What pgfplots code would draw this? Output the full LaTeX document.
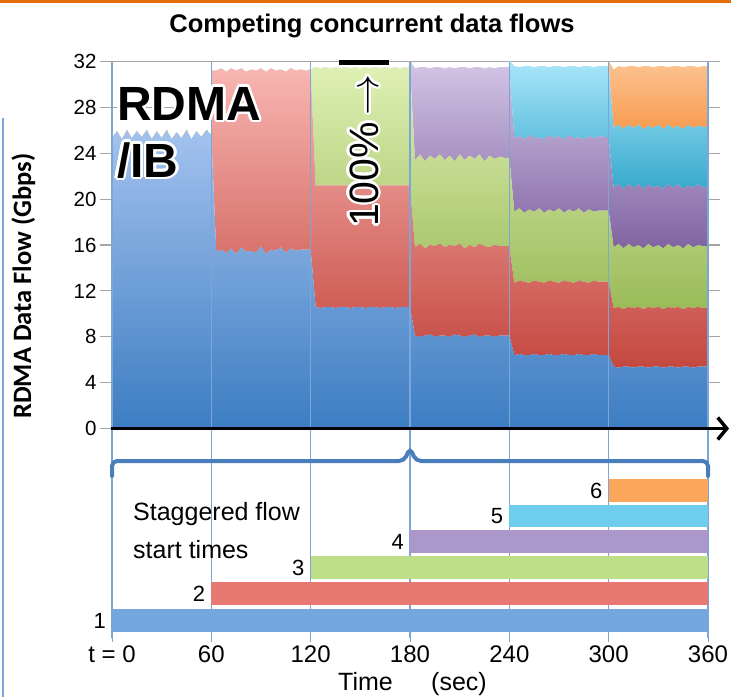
\RequirePackage{fix-cm}
\documentclass[border=0pt]{standalone}
\usepackage{fontspec}
\setmainfont{Liberation Sans}
\newfontfamily\calibri{Carlito}
\usepackage{pgfplots}
\pgfplotsset{compat=1.18}
\usepackage{pgfplotstable}
\usetikzlibrary{arrows.meta}
\usepackage{contour}
\contourlength{2.5pt}

\definecolor{a1t}{RGB}{163,194,238}\definecolor{a1b}{RGB}{60,125,194}
\definecolor{a2t}{RGB}{248,182,178}\definecolor{a2b}{RGB}{196,72,64}
\definecolor{a3t}{RGB}{222,240,180}\definecolor{a3b}{RGB}{155,187,89}
\definecolor{a4t}{RGB}{212,197,230}\definecolor{a4b}{RGB}{128,100,162}
\definecolor{a5t}{RGB}{170,230,250}\definecolor{a5b}{RGB}{55,170,205}
\definecolor{a6t}{RGB}{252,196,146}\definecolor{a6b}{RGB}{247,150,70}
\definecolor{b1}{RGB}{116,167,222}
\definecolor{b2}{RGB}{231,120,114}
\definecolor{b3}{RGB}{190,222,136}
\definecolor{b4}{RGB}{172,151,203}
\definecolor{b5}{RGB}{111,206,235}
\definecolor{b6}{RGB}{252,166,91}
\definecolor{vblue}{RGB}{125,165,215}
\definecolor{bracketblue}{RGB}{74,126,187}
\definecolor{gridgray}{RGB}{165,165,165}
\definecolor{topline}{RGB}{228,108,10}

\pgfplotstableread{
t f1 f2 f3 f4 f5 f6
0 25.3 0 0 0 0 0
3 25.9 0 0 0 0 0
6 25.2 0 0 0 0 0
9 26.0 0 0 0 0 0
12 25.3 0 0 0 0 0
15 25.9 0 0 0 0 0
18 25.4 0 0 0 0 0
21 26.0 0 0 0 0 0
24 25.2 0 0 0 0 0
27 25.9 0 0 0 0 0
30 25.3 0 0 0 0 0
33 26.0 0 0 0 0 0
36 25.2 0 0 0 0 0
39 25.8 0 0 0 0 0
42 25.3 0 0 0 0 0
45 26.0 0 0 0 0 0
48 25.2 0 0 0 0 0
51 25.9 0 0 0 0 0
54 25.4 0 0 0 0 0
57 26.0 0 0 0 0 0
60 25.6 0 0 0 0 0
60 25.6 5.6 0 0 0 0
63 15.4 15.8 0 0 0 0
66 15.6 15.8 0 0 0 0
69 15.3 15.8 0 0 0 0
72 15.7 15.7 0 0 0 0
75 15.2 16.0 0 0 0 0
78 15.8 15.6 0 0 0 0
81 15.4 15.7 0 0 0 0
84 15.5 15.8 0 0 0 0
87 15.3 15.9 0 0 0 0
90 15.9 15.5 0 0 0 0
93 15.2 15.9 0 0 0 0
96 15.6 15.8 0 0 0 0
99 15.5 15.7 0 0 0 0
102 15.8 15.5 0 0 0 0
105 15.3 15.8 0 0 0 0
108 15.7 15.7 0 0 0 0
111 15.5 15.7 0 0 0 0
114 15.6 15.7 0 0 0 0
117 15.6 15.6 0 0 0 0
120 15.6 15.7 0 0 0 0
123 10.6 10.6 10.3 0 0 0
126 10.5 10.7 10.2 0 0 0
129 10.6 10.6 10.3 0 0 0
132 10.6 10.6 10.2 0 0 0
135 10.5 10.7 10.3 0 0 0
138 10.6 10.6 10.2 0 0 0
141 10.6 10.6 10.3 0 0 0
144 10.5 10.7 10.2 0 0 0
147 10.6 10.6 10.3 0 0 0
150 10.6 10.6 10.2 0 0 0
153 10.5 10.7 10.3 0 0 0
156 10.6 10.6 10.2 0 0 0
159 10.6 10.6 10.3 0 0 0
162 10.5 10.7 10.2 0 0 0
165 10.6 10.6 10.3 0 0 0
168 10.6 10.6 10.2 0 0 0
171 10.5 10.7 10.3 0 0 0
174 10.6 10.6 10.2 0 0 0
177 10.6 10.6 10.3 0 0 0
180 10.6 10.6 10.3 0 0 0
180 10.6 10.6 10.3 0.5 0 0
183 8.1 7.7 7.6 8.0 0 0
186 8.0 8.1 7.8 7.6 0 0
189 8.1 7.6 7.6 8.2 0 0
192 8.2 7.8 7.8 7.6 0 0
195 8.0 7.9 7.6 8.0 0 0
198 8.1 8.0 7.8 7.6 0 0
201 8.1 7.7 7.6 8.0 0 0
204 8.0 8.0 7.8 7.7 0 0
207 8.2 7.7 7.4 8.1 0 0
210 8.1 8.0 7.8 7.6 0 0
213 8.0 7.7 7.7 8.1 0 0
216 8.1 7.9 7.8 7.6 0 0
219 8.2 7.6 7.7 8.0 0 0
222 8.0 8.1 7.8 7.6 0 0
225 8.1 7.8 7.4 8.1 0 0
228 8.1 7.7 8.0 7.7 0 0
231 8.0 8.0 7.5 7.9 0 0
234 8.1 7.8 7.8 7.8 0 0
237 8.1 7.8 7.7 7.9 0 0
240 8.1 7.8 7.7 7.9 0 0
240 8.1 7.8 7.7 7.9 0.6 0
243 6.4 6.3 6.2 6.4 6.3 0
246 6.5 6.4 6.3 6.3 6.0 0
249 6.4 6.4 6.0 6.4 6.4 0
252 6.4 6.3 6.4 6.5 6.0 0
255 6.5 6.4 6.0 6.4 6.2 0
258 6.4 6.4 6.4 6.2 6.2 0
261 6.4 6.3 6.1 6.4 6.4 0
264 6.5 6.4 6.2 6.5 5.9 0
267 6.4 6.4 6.1 6.4 6.3 0
270 6.4 6.3 6.5 6.3 6.1 0
273 6.5 6.4 5.9 6.4 6.3 0
276 6.4 6.4 6.3 6.5 6.0 0
279 6.4 6.3 6.2 6.4 6.3 0
282 6.5 6.4 6.3 6.2 6.1 0
285 6.4 6.4 6.0 6.4 6.4 0
288 6.4 6.3 6.4 6.4 6.1 0
291 6.5 6.4 6.0 6.4 6.2 0
294 6.4 6.4 6.2 6.5 6.1 0
297 6.4 6.4 6.2 6.4 6.2 0
300 6.4 6.4 6.2 6.4 6.2 0
300 6.4 6.4 6.2 6.4 6.2 0.5
303 5.4 5.1 5.3 5.2 5.2 5.1
306 5.3 5.3 5.5 5.2 5.2 5.1
309 5.4 5.0 5.3 5.2 5.2 5.4
312 5.4 5.2 5.5 5.2 5.2 5.1
315 5.3 5.2 5.3 5.2 5.2 5.4
318 5.4 5.2 5.4 5.3 5.2 5.0
321 5.4 5.0 5.3 5.2 5.2 5.5
324 5.3 5.3 5.5 5.2 5.1 5.2
327 5.4 5.1 5.3 5.2 5.2 5.3
330 5.4 5.2 5.4 5.2 5.3 5.1
333 5.3 5.1 5.3 5.2 5.2 5.5
336 5.4 5.2 5.5 5.2 5.2 5.0
339 5.4 5.1 5.3 5.2 5.2 5.4
342 5.3 5.3 5.4 5.3 5.1 5.2
345 5.4 5.0 5.3 5.2 5.2 5.4
348 5.4 5.2 5.5 5.1 5.3 5.1
351 5.3 5.2 5.3 5.2 5.2 5.4
354 5.4 5.2 5.4 5.3 5.1 5.1
357 5.4 5.1 5.4 5.1 5.3 5.3
360 5.4 5.1 5.4 5.2 5.2 5.3
}\flows

\begin{document}
\begin{tikzpicture}[x=1pt,y=1pt]
\useasboundingbox (0,0) rectangle (731,-697);
\fill[topline] (0,0) rectangle (731,-2.5);
\draw[vblue, line width=1.2pt] (3,-118) -- (3,-697);

% vertical guide lines in lower panel (behind bars)
\foreach \i in {0,...,6} \draw[vblue, line width=1.3pt] ({112+99.333*\i},-428.5) -- ({112+99.333*\i},-638);

% lower panel: staggered flow start times
\begin{axis}[at={(112pt,-638pt)}, anchor=south west, scale only axis,
  width=596pt, height=209.5pt, xmin=0, xmax=360, ymin=0, ymax=209.5,
  axis line style={draw=none}, ytick=\empty,
  xtick={0,60,120,180,240,300,360},
  xticklabels={t = 0,60,120,180,240,300,360},
  xtick style={draw=vblue, line width=1pt}, tick align=outside,
  major tick length=4pt,
  xticklabel style={font=\fontsize{24}{28}\selectfont},
  /pgf/number format/assume math mode=true, clip=false]
\addplot[fill=b1, draw=none] coordinates {(0,6)(360,6)(360,29)(0,29)} -- cycle;
\addplot[fill=b2, draw=none] coordinates {(60,33)(360,33)(360,56)(60,56)} -- cycle;
\addplot[fill=b3, draw=none] coordinates {(120,59)(360,59)(360,82)(120,82)} -- cycle;
\addplot[fill=b4, draw=none] coordinates {(180,85)(360,85)(360,108)(180,108)} -- cycle;
\addplot[fill=b5, draw=none] coordinates {(240,111)(360,111)(360,133)(240,133)} -- cycle;
\addplot[fill=b6, draw=none] coordinates {(300,136)(360,136)(360,159)(300,159)} -- cycle;
\node[anchor=east, inner sep=0, xshift=-6pt, font=\fontsize{22}{26}\selectfont] at (axis cs:0,17.5) {1};
\node[anchor=east, inner sep=0, xshift=-6pt, font=\fontsize{22}{26}\selectfont] at (axis cs:60,44.5) {2};
\node[anchor=east, inner sep=0, xshift=-6pt, font=\fontsize{22}{26}\selectfont] at (axis cs:120,70.5) {3};
\node[anchor=east, inner sep=0, xshift=-6pt, font=\fontsize{22}{26}\selectfont] at (axis cs:180,96.5) {4};
\node[anchor=east, inner sep=0, xshift=-6pt, font=\fontsize{22}{26}\selectfont] at (axis cs:240,122) {5};
\node[anchor=east, inner sep=0, xshift=-6pt, font=\fontsize{22}{26}\selectfont] at (axis cs:300,147.5) {6};
\end{axis}

% upper panel: stacked flows
\begin{axis}[at={(112pt,-428.5pt)}, anchor=south west, scale only axis,
  width=596pt, height=367pt, xmin=0, xmax=360, ymin=0, ymax=32,
  xtick=\empty, ytick={0,4,...,32},
  ymajorgrids, grid style={draw=gridgray, line width=1.2pt},
  axis line style={draw=none},
  ytick style={draw=gridgray, line width=1.2pt}, tick align=outside,
  major tick length=12pt,
  yticklabel style={font=\fontsize{20.5}{24}\selectfont},
  stack plots=y,
  /pgf/number format/assume math mode=true]
\addplot[draw=none, top color=a1t, bottom color=a1b] table[x=t,y=f1]{\flows} \closedcycle;
\addplot[draw=none, top color=a2t, bottom color=a2b] table[x=t,y=f2]{\flows} \closedcycle;
\addplot[draw=none, top color=a3t, bottom color=a3b] table[x=t,y=f3]{\flows} \closedcycle;
\addplot[draw=none, top color=a4t, bottom color=a4b] table[x=t,y=f4]{\flows} \closedcycle;
\addplot[draw=none, top color=a5t, bottom color=a5b] table[x=t,y=f5]{\flows} \closedcycle;
\addplot[draw=none, top color=a6t, bottom color=a6b] table[x=t,y=f6]{\flows} \closedcycle;
\end{axis}

% vertical guide lines in upper panel (over areas)
\foreach \i in {0,...,6} \draw[vblue, line width=1.3pt] ({112+99.333*\i},-61.5) -- ({112+99.333*\i},-428.5);

% time axis arrow
\draw[line width=3.5pt, -{Straight Barb[length=9pt,width=22pt]}] (111,-428.5) -- (729,-428.5);

% bracket
\draw[bracketblue, line width=4pt, rounded corners=5pt, line cap=round] (112,-476) -- (112,-461) -- (404,-461) -- (410,-448) -- (416,-461) -- (708,-461) -- (708,-476);

% texts
\node[anchor=base] at (372,-32) {\bfseries\fontsize{25.5}{30}\selectfont Competing concurrent data flows};
\node[rotate=90, anchor=base] at (31,-286) {\calibri\bfseries\fontsize{26.5}{30}\selectfont RDMA Data Flow (Gbps)};
\node[anchor=base west, inner sep=0] at (117,-120) {\bfseries\fontsize{48}{57}\selectfont\contour{white}{RDMA}};
\node[anchor=base west, inner sep=0] at (117,-177) {\bfseries\fontsize{48}{57}\selectfont\contour{white}{/IB}};
\node[rotate=90, anchor=base west, inner sep=0] at (378,-227) {\fontsize{41}{48}\selectfont\contour{white}{100\%\,$\rightarrow$}};
\fill (339,-59.5) rectangle (389,-64.5);
\node[anchor=base west, inner sep=0] at (133,-520) {\fontsize{25}{30}\selectfont Staggered flow};
\node[anchor=base west, inner sep=0] at (133,-558) {\fontsize{25}{30}\selectfont start times};
\node[anchor=base west, inner sep=0] at (338,-690) {\fontsize{25}{30}\selectfont Time};
\node[anchor=base west, inner sep=0] at (431,-690) {\fontsize{25}{30}\selectfont (sec)};
\end{tikzpicture}
\end{document}
